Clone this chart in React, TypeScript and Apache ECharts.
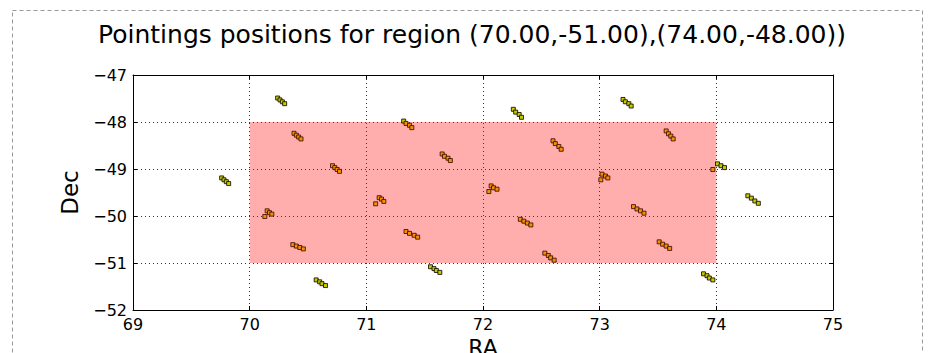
import React, { useEffect, useRef } from "react";
import * as echarts from "echarts";

// Region of interest (RA range, Dec range)
const regionRA = [70, 74];
const regionDec = [-51, -48];

// Axis ranges / ticks
const xTicks = [69, 70, 71, 72, 73, 74, 75];
const yTicks = [-52, -51, -50, -49, -48, -47];

// Pointing positions (RA, Dec), cluster by cluster
const pointRA = [
  70.24, 70.26, 70.28, 70.3,
  70.38, 70.4, 70.42, 70.44,
  70.71, 70.73, 70.75, 70.77,
  69.76, 69.78, 69.8, 69.82,
  70.13, 70.15, 70.17, 70.19,
  70.37, 70.4, 70.43, 70.46,
  70.57, 70.6, 70.62, 70.65,
  71.32, 71.34, 71.37, 71.39,
  71.65, 71.67, 71.7, 71.72,
  72.26, 72.28, 72.31, 72.33,
  73.2, 73.22, 73.25, 73.27,
  72.6, 72.62, 72.65, 72.67,
  71.08, 71.11, 71.13, 71.15,
  72.05, 72.07, 72.09, 72.12,
  73.01, 73.02, 73.05, 73.07,
  71.34, 71.37, 71.41, 71.44,
  71.55, 71.58, 71.6, 71.63,
  72.32, 72.35, 72.38, 72.41,
  72.53, 72.56, 72.58, 72.61,
  73.29, 73.32, 73.35, 73.38,
  73.57, 73.59, 73.61, 73.63,
  73.97, 74.01, 74.04, 74.07,
  74.27, 74.3, 74.33, 74.36,
  73.51, 73.54, 73.57, 73.6,
  73.89, 73.92, 73.94, 73.97,
];
const pointDec = [
  -47.49, -47.53, -47.57, -47.61,
  -48.24, -48.28, -48.32, -48.36,
  -48.93, -48.97, -49.01, -49.05,
  -49.19, -49.23, -49.27, -49.31,
  -50.01, -49.89, -49.93, -49.96,
  -50.61, -50.64, -50.67, -50.7,
  -51.36, -51.4, -51.44, -51.48,
  -47.98, -48.03, -48.07, -48.12,
  -48.68, -48.73, -48.77, -48.82,
  -47.73, -47.79, -47.84, -47.9,
  -47.52, -47.57, -47.61, -47.66,
  -48.4, -48.46, -48.52, -48.58,
  -49.74, -49.61, -49.64, -49.69,
  -49.48, -49.36, -49.4, -49.43,
  -49.23, -49.11, -49.15, -49.19,
  -50.33, -50.37, -50.41, -50.45,
  -51.08, -51.12, -51.16, -51.2,
  -50.07, -50.11, -50.15, -50.19,
  -50.79, -50.84, -50.89, -50.94,
  -49.8, -49.85, -49.89, -49.94,
  -48.19, -48.25, -48.3, -48.36,
  -49.01, -48.89, -48.93, -48.97,
  -49.57, -49.62, -49.68, -49.73,
  -50.55, -50.6, -50.64, -50.69,
  -51.23, -51.27, -51.32, -51.36,
];

const titleText = "Pointings positions for region (70.00,-51.00),(74.00,-48.00))";
const FONT = "DejaVu Sans";

const fmt = (v: number) => (v < 0 ? "\u2212" + Math.abs(v) : String(v));

export default function App() {
  const ref = useRef<HTMLDivElement>(null);
  useEffect(() => {
    if (!ref.current) return;
    const chart = echarts.init(ref.current, undefined, { renderer: "svg" });

    const inside: number[][] = [];
    const outside: number[][] = [];
    pointRA.forEach((ra, i) => {
      const dec = pointDec[i];
      const isIn =
        ra >= regionRA[0] && ra <= regionRA[1] && dec >= regionDec[0] && dec <= regionDec[1];
      (isIn ? inside : outside).push([ra, dec]);
    });

    const xMin = xTicks[0];
    const xMax = xTicks[xTicks.length - 1];
    const yMin = yTicks[0];
    const yMax = yTicks[yTicks.length - 1];

    const baseX = {
      type: "value" as const,
      min: xMin,
      max: xMax,
      interval: 1,
      axisLine: { show: true, onZero: false, lineStyle: { color: "#000", width: 1 } },
      axisTick: { show: true, inside: true, length: 4, lineStyle: { color: "#000" } },
    };
    const baseY = {
      type: "value" as const,
      min: yMin,
      max: yMax,
      interval: 1,
      axisLine: { show: true, onZero: false, lineStyle: { color: "#000", width: 1 } },
      axisTick: { show: true, inside: true, length: 4, lineStyle: { color: "#000" } },
    };

    chart.setOption({
      animation: false,
      backgroundColor: "#fff",
      textStyle: { fontFamily: FONT },
      grid: {
        left: 133,
        right: 96,
        top: 75,
        bottom: 43,
        containLabel: false,
        outerBoundsMode: "none",
      },
      xAxis: [
        {
          ...baseX,
          position: "bottom",
          name: "RA",
          nameLocation: "middle",
          nameGap: 26,
          nameTextStyle: { fontSize: 22, color: "#000", fontFamily: FONT, verticalAlign: "top" },
          axisLabel: { color: "#000", fontSize: 16, fontFamily: FONT, margin: 6, formatter: fmt },
          splitLine: { show: true, lineStyle: { color: "#333", type: [1, 3], width: 1 } },
        },
        {
          ...baseX,
          position: "top",
          axisLabel: { show: false },
          splitLine: { show: false },
        },
      ],
      yAxis: [
        {
          ...baseY,
          position: "left",
          name: "Dec",
          nameLocation: "middle",
          nameGap: 52,
          nameTextStyle: { fontSize: 23, color: "#000", fontFamily: FONT },
          axisLabel: { color: "#000", fontSize: 16, fontFamily: FONT, margin: 6, formatter: fmt },
          splitLine: { show: true, lineStyle: { color: "#333", type: [1, 3], width: 1 } },
        },
        {
          ...baseY,
          position: "right",
          axisLabel: { show: false },
          splitLine: { show: false },
        },
      ],
      graphic: [
        {
          type: "text",
          x: 472,
          y: 34,
          style: {
            text: titleText,
            fontSize: 25,
            fontFamily: FONT,
            fill: "#000",
            align: "center",
            verticalAlign: "middle",
          },
        },
        {
          type: "rect",
          shape: { x: 12.5, y: 10.5, width: 910, height: 500 },
          style: { fill: "none", stroke: "#999", lineWidth: 1, lineDash: [4, 3] },
          silent: true,
        },
      ],
      series: [
        {
          type: "line",
          data: [],
          z: 1,
          markArea: {
            silent: true,
            itemStyle: { color: "rgba(255,0,0,0.32)", borderWidth: 0 },
            data: [[{ coord: [regionRA[0], regionDec[0]] }, { coord: [regionRA[1], regionDec[1]] }]],
          },
        },
        {
          type: "scatter",
          data: outside,
          symbol: "rect",
          symbolSize: 4,
          z: 3,
          itemStyle: { color: "#c8c800", borderColor: "#000", borderWidth: 0.8, opacity: 1 },
        },
        {
          type: "scatter",
          data: inside,
          symbol: "rect",
          symbolSize: 4,
          z: 3,
          itemStyle: { color: "#ff8c00", borderColor: "#2a0800", borderWidth: 0.8, opacity: 1 },
        },
      ],
    });
    return () => chart.dispose();
  }, []);
  return (
    <div
      ref={ref}
      style={{ position: "fixed", left: 0, top: 0, width: 929, height: 353 }}
    />
  );
}
